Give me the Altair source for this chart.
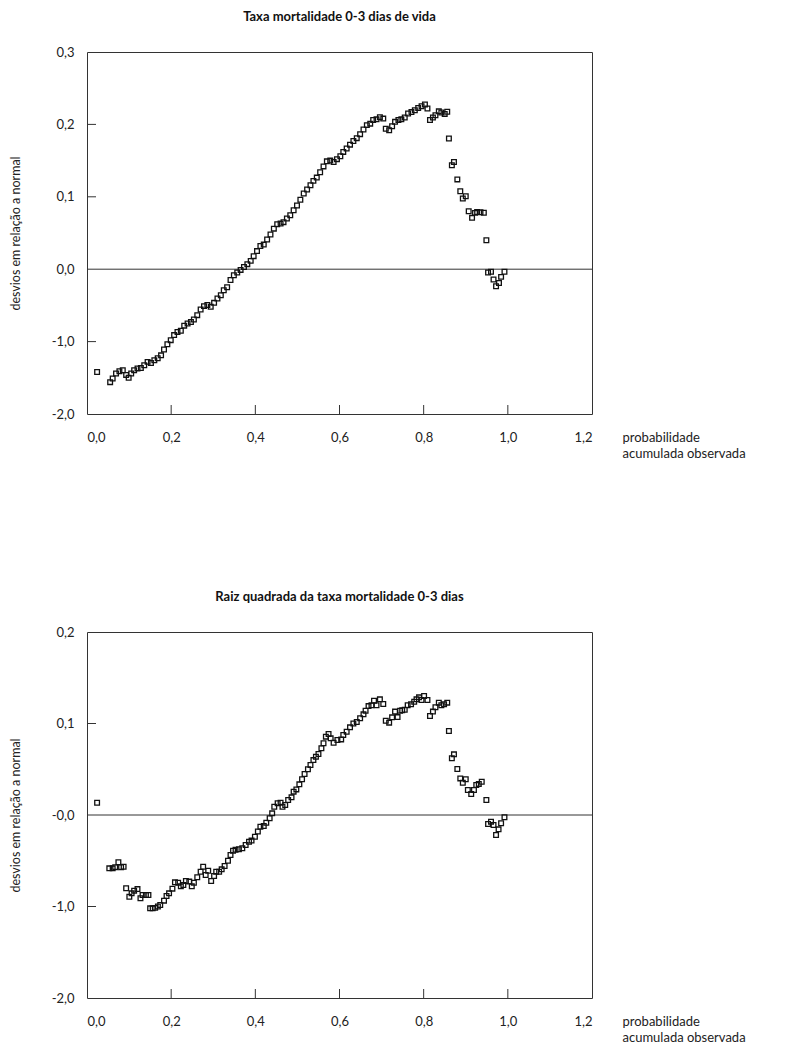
import altair as alt
import pandas as pd

# ---------------- data ----------------
top_title = "Taxa mortalidade 0-3 dias de vida"
bot_title = "Raiz quadrada da taxa mortalidade 0-3 dias"

top_x = [0.024, 0.055, 0.061, 0.069, 0.077, 0.085, 0.093, 0.099, 0.105, 0.112, 0.120, 0.128, 0.136, 0.144,
         0.152, 0.160, 0.168, 0.176, 0.183, 0.191, 0.199, 0.207, 0.215, 0.223, 0.231, 0.239, 0.247, 0.254,
         0.262, 0.270, 0.278, 0.286, 0.294, 0.302, 0.310, 0.318, 0.325, 0.333, 0.341, 0.349, 0.357, 0.365,
         0.373, 0.381, 0.389, 0.396, 0.404, 0.412, 0.420, 0.428, 0.436, 0.444, 0.452, 0.460, 0.467, 0.475,
         0.483, 0.491, 0.499, 0.507, 0.515, 0.523, 0.531, 0.538, 0.546, 0.554, 0.562, 0.570, 0.578, 0.586,
         0.594, 0.602, 0.609, 0.617, 0.625, 0.633, 0.641, 0.649, 0.657, 0.665, 0.673, 0.680, 0.688, 0.696,
         0.704, 0.710, 0.718, 0.725, 0.732, 0.740, 0.747, 0.755, 0.763, 0.771, 0.779, 0.787, 0.795, 0.803,
         0.809, 0.815, 0.822, 0.828, 0.836, 0.842, 0.850, 0.856, 0.860, 0.867, 0.872, 0.880, 0.887, 0.893,
         0.900, 0.907, 0.915, 0.922, 0.927, 0.935, 0.943, 0.949, 0.953, 0.960, 0.966, 0.972, 0.979, 0.984,
         0.992]
top_y = [-0.142, -0.156, -0.151, -0.144, -0.141, -0.1395, -0.146, -0.150, -0.144, -0.1395, -0.137, -0.1365,
         -0.1326, -0.128, -0.1295, -0.1257, -0.123, -0.119, -0.111, -0.1036, -0.098, -0.091, -0.0866, -0.085,
         -0.078, -0.075, -0.073, -0.0695, -0.0635, -0.0557, -0.051, -0.0495, -0.052, -0.0465, -0.0405, -0.036,
         -0.029, -0.025, -0.015, -0.0083, -0.0046, -0.001, 0.003, 0.007, 0.0115, 0.018, 0.025, 0.032, 0.034,
         0.041, 0.048, 0.056, 0.062, 0.063, 0.065, 0.070, 0.0746, 0.0815, 0.088, 0.096, 0.1045, 0.110, 0.116,
         0.122, 0.1265, 0.134, 0.142, 0.149, 0.150, 0.148, 0.152, 0.156, 0.162, 0.1667, 0.172, 0.177, 0.181,
         0.1865, 0.193, 0.199, 0.201, 0.206, 0.207, 0.210, 0.208, 0.194, 0.192, 0.1975, 0.2035, 0.206, 0.207,
         0.2095, 0.215, 0.217, 0.2196, 0.2228, 0.225, 0.2275, 0.222, 0.206, 0.2095, 0.2127, 0.218, 0.2165,
         0.2145, 0.2175, 0.1805, 0.1436, 0.148, 0.124, 0.1077, 0.0976, 0.1008, 0.080, 0.0709, 0.0778, 0.079,
         0.0785, 0.078, 0.040, -0.0046, -0.0035, -0.0143, -0.0235, -0.019, -0.0106, -0.0035]

bot_x = [0.024, 0.053, 0.061, 0.067, 0.0746, 0.081, 0.087, 0.093, 0.1006, 0.106, 0.112, 0.120, 0.127, 0.132,
         0.140, 0.146, 0.150, 0.156, 0.162, 0.1685, 0.174, 0.183, 0.189, 0.195, 0.203, 0.209, 0.2166, 0.223,
         0.229, 0.235, 0.243, 0.249, 0.254, 0.262, 0.270, 0.276, 0.282, 0.288, 0.295, 0.302, 0.307, 0.314,
         0.320, 0.327, 0.335, 0.341, 0.347, 0.353, 0.361, 0.369, 0.377, 0.385, 0.391, 0.399, 0.406, 0.412,
         0.420, 0.426, 0.434, 0.440, 0.445, 0.453, 0.460, 0.4645, 0.471, 0.478, 0.486, 0.491, 0.4975, 0.5046,
         0.511, 0.517, 0.525, 0.531, 0.538, 0.544, 0.550, 0.557, 0.562, 0.5676, 0.574, 0.579, 0.586, 0.595,
         0.604, 0.609, 0.617, 0.625, 0.633, 0.641, 0.649, 0.657, 0.662, 0.669, 0.676, 0.682, 0.688, 0.696,
         0.704, 0.710, 0.718, 0.725, 0.732, 0.738, 0.744, 0.749, 0.755, 0.762, 0.770, 0.7775, 0.783, 0.789,
         0.795, 0.801, 0.809, 0.815, 0.822, 0.828, 0.836, 0.842, 0.8485, 0.856, 0.860, 0.867, 0.872, 0.880,
         0.887, 0.893, 0.900, 0.905, 0.913, 0.9195, 0.925, 0.931, 0.938, 0.949, 0.953, 0.960, 0.966, 0.972,
         0.978, 0.984, 0.992]
bot_y = [0.0134, -0.0583, -0.0583, -0.057, -0.0517, -0.057, -0.0565, -0.080, -0.0893, -0.0856, -0.0827,
         -0.081, -0.091, -0.0874, -0.0874, -0.0874, -0.102, -0.102, -0.1015, -0.100, -0.0984, -0.0936,
         -0.0885, -0.0856, -0.0805, -0.0736, -0.074, -0.078, -0.0765, -0.0721, -0.0728, -0.078, -0.074,
         -0.068, -0.062, -0.0565, -0.0656, -0.061, -0.0721, -0.0667, -0.062, -0.062, -0.0594, -0.0557,
         -0.050, -0.0437, -0.039, -0.038, -0.0375, -0.0364, -0.0328, -0.0292, -0.028, -0.0237, -0.018,
         -0.0128, -0.012, -0.0084, -0.0036, 0.0018, 0.009, 0.0128, 0.0135, 0.009, 0.011, 0.0164, 0.0193,
         0.0255, 0.028, 0.0335, 0.039, 0.0448, 0.050, 0.0546, 0.060, 0.0637, 0.0667, 0.0729, 0.0784, 0.0856,
         0.0885, 0.0838, 0.079, 0.082, 0.0826, 0.0874, 0.091, 0.0958, 0.100, 0.1016, 0.1057, 0.110, 0.114,
         0.119, 0.120, 0.1249, 0.120, 0.1264, 0.1213, 0.103, 0.1009, 0.1067, 0.113, 0.107, 0.114, 0.1145,
         0.115, 0.120, 0.121, 0.1238, 0.1264, 0.1286, 0.1257, 0.130, 0.1257, 0.1082, 0.113, 0.1177, 0.1228,
         0.120, 0.121, 0.1228, 0.0918, 0.062, 0.0663, 0.0503, 0.040, 0.0353, 0.039, 0.0273, 0.023, 0.0273,
         0.0328, 0.034, 0.0364, 0.0164, -0.0098, -0.0073, -0.011, -0.0219, -0.0157, -0.009, -0.0025]

x_tick_values = [0.0, 0.2, 0.4, 0.6, 0.8, 1.0, 1.2]
x_tick_labels = ["0,0", "0,2", "0,4", "0,6", "0,8", "1,0", "1,2"]
x_inner_ticks = [0.2, 0.4, 0.6, 0.8, 1.0]

top_y_values = [-0.2, -0.1, 0.0, 0.1, 0.2, 0.3]
top_y_labels = ["-2,0", "-1,0", "0,0", "0,1", "0,2", "0,3"]
top_inner_ticks = [-0.1, 0.1, 0.2]

bot_y_values = [-0.2, -0.1, 0.0, 0.1, 0.2]
bot_y_labels = ["-2,0", "-1,0", "-0,0", "0,1", "0,2"]
bot_inner_ticks = [-0.1, 0.1]

y_title = "desvios em relação a normal"
x_title = ["probabilidade", "acumulada observada"]

FONT = "Lato"
W = 505
INK = "#222"


def label_expr(values, labels, scale=10):
    expr = "''"
    for v, lab in zip(values, labels):
        expr = f"round(datum.value*{scale}) == {round(v * scale)} ? '{lab}' : " + expr
    return expr


def panel(title, xs, ys, y_values, y_labels, inner_y, height):
    y_dom = [min(y_values), max(y_values)]
    df = pd.DataFrame({"x": xs, "y": ys})
    xscale = alt.Scale(domain=[0, 1.2], nice=False)
    yscale = alt.Scale(domain=y_dom, nice=False)

    xaxis = alt.Axis(values=x_tick_values, labelExpr=label_expr(x_tick_values, x_tick_labels),
                     domain=False, ticks=False, grid=False, labelPadding=17,
                     labelFont=FONT, labelFontSize=13, labelColor=INK,
                     title=x_title, titleFont=FONT, titleFontSize=13, titleFontWeight="normal",
                     titleColor=INK, titleX=W + 30, titleY=17, titleAlign="left",
                     titleBaseline="top", titleAngle=0, titleLineHeight=16)
    yaxis = alt.Axis(values=y_values, labelExpr=label_expr(y_values, y_labels),
                     domain=False, ticks=False, grid=False, labelPadding=13,
                     labelFont=FONT, labelFontSize=13, labelColor=INK,
                     title=y_title, titleFont=FONT, titleFontSize=12.5, titleFontWeight="normal",
                     titleColor=INK, titlePadding=29)

    pts = alt.Chart(df).mark_point(shape="square", filled=False, size=22, strokeWidth=1.3,
                                    color="#111", opacity=1).encode(
        x=alt.X("x:Q", scale=xscale, axis=xaxis),
        y=alt.Y("y:Q", scale=yscale, axis=yaxis),
    )
    zero = alt.Chart(pd.DataFrame({"y": [0.0]})).mark_rule(color="#333", strokeWidth=1).encode(
        y=alt.Y("y:Q", scale=yscale), x=alt.value(0), x2=alt.value(W))
    xt = alt.Chart(pd.DataFrame({"x": x_inner_ticks})).mark_rule(color="#333", strokeWidth=1).encode(
        x=alt.X("x:Q", scale=xscale), y=alt.value(height), y2=alt.value(height - 9))
    yt = alt.Chart(pd.DataFrame({"y": inner_y})).mark_rule(color="#333", strokeWidth=1).encode(
        y=alt.Y("y:Q", scale=yscale), x=alt.value(0), x2=alt.value(9))

    return alt.layer(zero, xt, yt, pts).properties(
        width=W, height=height,
        title=alt.TitleParams(title, font=FONT, fontSize=13, fontWeight="bold", color="#111",
                              anchor="middle", frame="group", offset=22),
    )


top = panel(top_title, top_x, top_y, top_y_values, top_y_labels, top_inner_ticks, 362)
bot = panel(bot_title, bot_x, bot_y, bot_y_values, bot_y_labels, bot_inner_ticks, 366)

chart = alt.vconcat(top, bot, spacing=129).properties(
    padding={"left": 0, "top": 2, "right": 5, "bottom": 2}
).configure(background="white").configure_view(stroke="#333", strokeWidth=1)

chart.save("out.html", embed_options={"renderer": "svg", "actions": False})
